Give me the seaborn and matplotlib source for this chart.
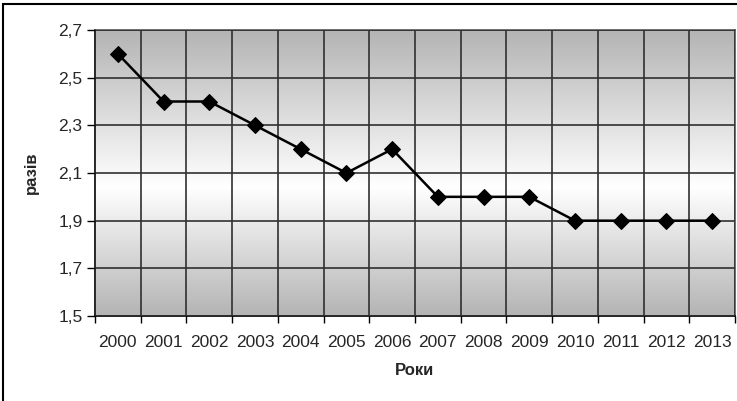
import matplotlib
matplotlib.use('Agg')
import matplotlib.pyplot as plt
import seaborn as sns
import numpy as np
from matplotlib.colors import LinearSegmentedColormap
from matplotlib.patches import Rectangle
from matplotlib.ticker import FixedLocator, FuncFormatter

years = ['2000', '2001', '2002', '2003', '2004', '2005', '2006',
         '2007', '2008', '2009', '2010', '2011', '2012', '2013']
values = [2.6, 2.4, 2.4, 2.3, 2.2, 2.1, 2.2, 2.0, 2.0, 2.0, 1.9, 1.9, 1.9, 1.9]
y_ticks = [1.5, 1.7, 1.9, 2.1, 2.3, 2.5, 2.7]

sns.set_style('white')
plt.rcParams['font.family'] = ['Liberation Sans', 'DejaVu Sans']

fig = plt.figure(figsize=(7.37, 4.01), dpi=100)
ax = fig.add_axes([95 / 737, 85 / 401, 640 / 737, 286 / 401])

# gradient background: gray - white - gray
cmap = LinearSegmentedColormap.from_list(
    'bg', [(0.0, '#b4b4b4'), (0.45, '#ffffff'), (1.0, '#b4b4b4')])
grad = np.linspace(0, 1, 256).reshape(-1, 1)
ax.imshow(grad, cmap=cmap, aspect='auto', origin='lower',
          extent=[-0.5, len(years) - 0.5, 1.5, 2.7], zorder=0)

x = np.arange(len(years))
sns.lineplot(x=x, y=values, ax=ax, color='black', linewidth=1.8,
             marker='D', markersize=8, markeredgecolor='black', zorder=3)

ax.set_xlim(-0.5, len(years) - 0.5)
ax.set_ylim(1.5, 2.7)

ax.set_xticks(x)
ax.set_xticklabels(years)
ax.xaxis.set_minor_locator(FixedLocator(np.arange(-0.5, len(years), 1.0)))
ax.tick_params(axis='x', which='major', length=0, pad=14, labelsize=12.5)
ax.tick_params(axis='x', which='minor', length=5, width=1, color='black',
               direction='out', bottom=True)
ax.set_yticks(y_ticks)
ax.yaxis.set_major_formatter(FuncFormatter(lambda v, p: f'{v:.1f}'.replace('.', ',')))
ax.tick_params(axis='y', length=6, width=1, color='black', direction='out',
               left=True, labelsize=12.5, pad=3)

ax.grid(False)
ax.grid(True, axis='x', which='minor', color='#303030', linewidth=1.2, zorder=1)
ax.grid(True, axis='y', which='major', color='#303030', linewidth=1.2, zorder=1)
ax.set_axisbelow(False)
for line in ax.get_xgridlines() + ax.get_ygridlines():
    line.set_zorder(1)

for side in ['top', 'right']:
    ax.spines[side].set_color('#555555')
    ax.spines[side].set_linewidth(1.2)
for side in ['left', 'bottom']:
    ax.spines[side].set_color('black')
    ax.spines[side].set_linewidth(1.2)

ax.set_xlabel('Роки', fontsize=12, fontweight='bold', labelpad=9)
ax.set_ylabel('разів', fontsize=12, fontweight='bold', labelpad=14)

# outer chart frame
fig.patches.append(Rectangle((3 / 737, -0.05), 1.0, 1.05 - 4 / 401,
                             transform=fig.transFigure, fill=False,
                             edgecolor='black', linewidth=1.5))

fig.savefig('out.png', dpi=100)
